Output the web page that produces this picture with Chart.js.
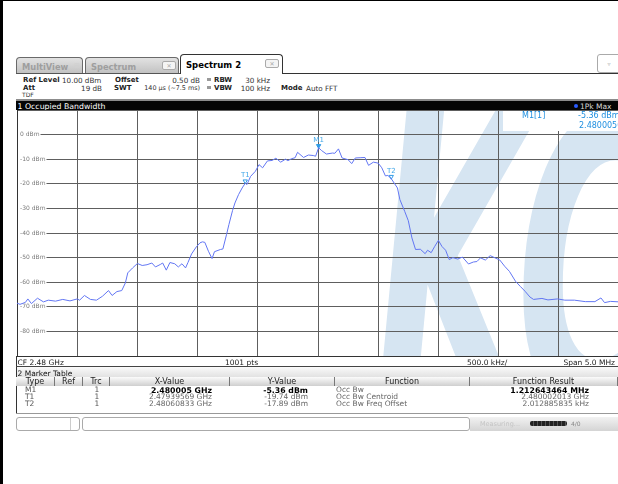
<!DOCTYPE html>
<html>
<head>
<meta charset="utf-8">
<script src="https://cdn.jsdelivr.net/npm/chart.js@4.4.0/dist/chart.umd.min.js"></script>
<style>
body{margin:0;width:618px;height:484px;overflow:hidden;background:#fff;position:relative;font-family:"DejaVu Sans",sans-serif;color:#333}
.a{position:absolute;white-space:nowrap;line-height:1}
.tab{position:absolute;box-sizing:border-box;border:1px solid #6a6a6a;border-bottom:none;border-radius:4px 4px 0 0;background:linear-gradient(#e2e2e2,#c2c2c2);font:bold 8.3px "DejaVu Sans";color:#9e9e9e}
.tab span{position:absolute;top:4px;left:5px}
.ico{position:absolute;box-sizing:border-box;width:14px;height:9px;border:1px solid #aaa;border-radius:2px;background:#f4f4f4;font:6px "DejaVu Sans";color:#aaa;text-align:center;line-height:7px}
.hr{font:7.2px "DejaVu Sans";color:#333}
.hb{font:bold 7px "DejaVu Sans";color:#222}
.sq{position:absolute;width:4px;height:3px;background:#9a9a9a}
.th{position:absolute;top:377px;height:9px;box-sizing:border-box;background:linear-gradient(#fbfbfb,#cfcfcf);border-right:1px solid #777;font:8px "DejaVu Sans";color:#222;text-align:center;line-height:9px}
.td{position:absolute;font:7.5px "DejaVu Sans";color:#666;white-space:nowrap;line-height:1}
.td.b{font:bold 7.8px "DejaVu Sans";color:#000}
#plot{position:absolute;left:16px;top:109px}
</style>
</head>
<body>
<div class="a" style="left:0;top:0;width:3px;height:484px;background:#000"></div>
<div class="a" style="left:0;top:0;width:618px;height:1px;background:#000"></div>

<!-- tabs -->
<div class="tab" style="left:16px;top:57px;width:67px;height:16px"><span>MultiView</span><div class="a" style="left:57px;top:4px;font:7px 'DejaVu Sans';color:#d0d0d0">⊞</div></div>
<div class="tab" style="left:85px;top:57px;width:94px;height:16px"><span>Spectrum</span><div class="ico" style="left:76px;top:3px">✕</div></div>
<div class="tab" style="left:180px;top:54px;width:103px;height:20px;background:#fff;border-color:#333;color:#000;font-size:8.5px"><span style="top:5px">Spectrum 2</span><div class="ico" style="left:84px;top:4px">✕</div></div>
<div class="a" style="left:16px;top:73px;width:164px;height:1px;background:#555"></div>
<div class="a" style="left:282px;top:73px;width:336px;height:1px;background:#333"></div>
<div class="a" style="left:597px;top:54px;width:24px;height:19px;box-sizing:border-box;border:1px solid #aaa;border-radius:3px;background:#fff;font:6px 'DejaVu Sans';color:#aaa;text-align:center;line-height:17px">▿</div>

<!-- header info -->
<div class="a hb" style="left:23px;top:75.5px">Ref Level</div>
<div class="a hr" style="left:62px;top:75.5px">10.00 dBm</div>
<div class="a hb" style="left:115px;top:75.5px">Offset</div>
<div class="a hr" style="right:418px;top:75.5px">0.50 dB</div>
<div class="sq" style="left:207px;top:78px"></div>
<div class="a hb" style="left:214px;top:75.5px">RBW</div>
<div class="a hr" style="right:348px;top:75.5px">30 kHz</div>

<div class="a hb" style="left:23px;top:83.5px">Att</div>
<div class="a hr" style="right:516px;top:83.5px">19 dB</div>
<div class="a hb" style="left:114px;top:83.5px">SWT</div>
<div class="a hr" style="right:418px;top:84px;font-size:6.4px">140 µs (~7.5 ms)</div>
<div class="sq" style="left:207px;top:86px"></div>
<div class="a hb" style="left:214px;top:83.5px">VBW</div>
<div class="a hr" style="right:348px;top:83.5px">100 kHz</div>
<div class="a hb" style="left:281px;top:83.5px">Mode</div>
<div class="a hr" style="left:306px;top:83.5px">Auto FFT</div>
<div class="a hr" style="left:22px;top:91px;font-size:6px">TDF</div>

<!-- title bar -->
<div class="a" style="left:16px;top:99px;width:602px;height:2px;background:#8c8c8c"></div>
<div class="a" style="left:16px;top:101px;width:602px;height:9px;background:#050505"></div>
<div class="a" style="left:17.5px;top:101.5px;font:7.8px 'DejaVu Sans';color:#fff">1 Occupied Bandwidth</div>
<div class="a" style="left:574px;top:103.5px;width:4px;height:4px;border-radius:2px;background:#2a5cff"></div>
<div class="a" style="left:580px;top:101.5px;font:7.5px 'DejaVu Sans';color:#d8d8d8">1Pk Max</div>

<canvas id="plot" width="606" height="249"></canvas>

<!-- bottom of diagram -->
<div class="a" style="left:16px;top:356px;width:1px;height:58px;background:#333"></div>
<div class="a" style="left:17.5px;top:357.5px;font:7.5px 'DejaVu Sans';color:#222">CF 2.48 GHz</div>
<div class="a" style="left:225px;top:357.5px;font:7.5px 'DejaVu Sans';color:#222">1001 pts</div>
<div class="a" style="left:467px;top:357.5px;font:7.5px 'DejaVu Sans';color:#222">500.0 kHz/</div>
<div class="a" style="right:3px;top:357.5px;font:7.5px 'DejaVu Sans';color:#222">Span 5.0 MHz</div>
<div class="a" style="left:16px;top:365.5px;width:602px;height:1.5px;background:#444"></div>
<div class="a" style="left:17px;top:367px;width:601px;height:10px;background:linear-gradient(#fafafa,#e2e2e2)"></div>
<div class="a" style="left:17.5px;top:368.5px;font:7.5px 'DejaVu Sans';color:#111">2 Marker Table</div>
<div id="table"></div>
<div class="a" style="left:16px;top:413px;width:602px;height:1px;background:#999"></div>

<!-- status bar -->
<div class="a" style="left:16px;top:417px;width:64px;height:14px;box-sizing:border-box;border:1px solid #aaa;border-radius:3px;background:#fff"></div>
<div class="a" style="left:70px;top:418px;width:1px;height:12px;background:#ccc"></div>
<div class="a" style="left:82px;top:417px;width:388px;height:14px;box-sizing:border-box;border:1px solid #aaa;border-radius:3px;background:#fff"></div>
<div class="a" style="left:470px;top:417px;width:148px;height:14px;background:linear-gradient(#f2f2f2,#d4d4d4)"></div>
<div class="a" style="left:480px;top:420px;font:6.5px 'DejaVu Sans';color:#c4c4c4">Measuring...</div>
<div class="a" style="left:530px;top:421px;width:37px;height:5px;border-radius:2px;background:repeating-linear-gradient(90deg,#222 0 3px,#555 3px 4px)"></div>
<div class="a" style="left:571px;top:420px;font:6px 'DejaVu Sans';color:#888">4/0</div>

<script>
// trace: frequency offset from CF 2.48 GHz (MHz) and level (dBm)
const freqMHz = [
  -2.50, -2.475, -2.43, -2.41, -2.38, -2.33, -2.28, -2.24, -2.18, -2.12,
  -2.06, -2.00, -1.98, -1.94, -1.89, -1.84, -1.79, -1.74, -1.71, -1.67,
  -1.63, -1.60, -1.58, -1.54, -1.50, -1.46, -1.42, -1.38, -1.35, -1.31,
  -1.29, -1.26, -1.23, -1.19, -1.16, -1.13, -1.10, -1.08, -1.05, -1.01,
  -0.98, -0.96, -0.94, -0.91, -0.88, -0.86, -0.81, -0.79, -0.76, -0.74,
  -0.71, -0.69, -0.66, -0.63, -0.604, -0.59, -0.56, -0.52, -0.49, -0.46,
  -0.42, -0.38, -0.35, -0.31, -0.27, -0.25, -0.22, -0.19, -0.17, -0.12,
  -0.08, -0.04, -0.02, 0.005, 0.03, 0.07, 0.12, 0.14, 0.17, 0.20,
  0.25, 0.28, 0.31, 0.35, 0.39, 0.42, 0.46, 0.50, 0.53, 0.56,
  0.58, 0.608, 0.66, 0.68, 0.72, 0.75, 0.78, 0.81, 0.85, 0.89,
  0.91, 0.94, 0.97, 1.00, 1.03, 1.06, 1.09, 1.12, 1.16, 1.20,
  1.25, 1.29, 1.32, 1.35, 1.39, 1.43, 1.47, 1.51, 1.55, 1.59,
  1.64, 1.68, 1.72, 1.76, 1.79, 1.86, 1.91, 1.99, 2.05, 2.13,
  2.22, 2.30, 2.35, 2.38, 2.43, 2.50
];
const levelDbm = [
  -68.5, -69.0, -68.2, -66.8, -68.7, -66.5, -68.0, -67.3, -67.7, -67.0,
  -67.6, -66.8, -67.3, -65.4, -67.0, -67.3, -65.7, -63.4, -65.4, -63.8,
  -63.4, -60.3, -56.2, -54.2, -52.4, -53.2, -52.9, -52.2, -53.8, -52.8,
  -52.2, -55.1, -52.0, -52.5, -53.8, -52.5, -54.2, -52.0, -48.5, -45.6,
  -44.0, -43.6, -43.8, -47.4, -50.4, -47.6, -46.7, -46.5, -40.7, -36.6,
  -30.9, -27.8, -24.4, -21.7, -19.74, -20.3, -17.0, -14.9, -12.2, -13.5,
  -10.7, -10.5, -9.6, -11.2, -10.0, -10.6, -9.8, -9.4, -7.2, -9.3,
  -8.3, -8.5, -8.8, -5.36, -6.5, -7.9, -7.5, -7.6, -5.8, -9.5,
  -10.2, -11.8, -9.5, -9.4, -9.3, -12.5, -11.2, -11.6, -13.5, -16.8,
  -16.6, -17.89, -21.7, -26.4, -31.2, -35.0, -42.0, -46.7, -46.6, -48.4,
  -47.0, -48.0, -45.4, -43.0, -45.5, -47.0, -50.8, -50.0, -50.6, -49.8,
  -52.6, -51.8, -51.6, -50.1, -51.0, -49.2, -50.1, -51.0, -53.5, -55.6,
  -59.6, -61.7, -63.7, -66.0, -67.0, -66.6, -67.2, -66.8, -67.3, -67.3,
  -67.9, -67.9, -66.4, -68.3, -67.8, -68.0
];

// marker table
const markerNames = ['M1', 'T1', 'T2'];
const markerFreqMHz = [0.005, -0.60431, 0.60833];
const markerLevel = [-5.36, -19.74, -17.89];
const markerRef = ['', '', ''];
const markerTrc = ['1', '1', '1'];
const markerXText = ['2.480005 GHz', '2.47939569 GHz', '2.48060833 GHz'];
const markerYText = ['-5.36 dBm', '-19.74 dBm', '-17.89 dBm'];
const funcNames = ['Occ Bw', 'Occ Bw Centroid', 'Occ Bw Freq Offset'];
const funcResults = ['1.212643464 MHz', '2.480002013 GHz', '2.012885835 kHz'];

// table columns: header, left, right
const columns = [
    ['Type', 16, 55], ['Ref', 55, 83], ['Trc', 83, 110], ['X-Value', 110, 230],
    ['Y-Value', 230, 335], ['Function', 335, 470], ['Function Result', 470, 618]
];
const rowY = [385.5, 393, 400.3];

const table = document.getElementById('table');
columns.forEach(c => {
    const d = document.createElement('div');
    d.className = 'th';
    d.style.left = c[1] + 'px';
    d.style.width = (c[2] - c[1]) + 'px';
    d.textContent = c[0];
    table.appendChild(d);
});

function cell(text, y, bold, opts) {
    const d = document.createElement('div');
    d.className = bold ? 'td b' : 'td';
    d.style.top = y + 'px';
    Object.assign(d.style, opts);
    d.textContent = text;
    table.appendChild(d);
}

markerNames.forEach((name, i) => {
    const y = rowY[i];
    const bold = i === 0;
    cell(name, y, false, { left: '25px', color: '#555' });
    cell(markerRef[i], y, false, { left: '66px' });
    cell(markerTrc[i], y, false, { left: '94.5px', color: '#555' });
    cell(markerXText[i], y, bold, { right: (618 - 212) + 'px' });
    cell(markerYText[i], y, bold, { right: (618 - 308) + 'px' });
    cell(funcNames[i], y, false, { left: '336px' });
    cell(funcResults[i], y, bold, { right: (618 - 589) + 'px' });
});

const watermark = {
    id: 'watermark',
    beforeDraw(chart) {
        const { ctx, chartArea: a } = chart;
        ctx.save();
        ctx.beginPath();
        ctx.rect(a.left, a.top, a.right - a.left, a.bottom - a.top);
        ctx.clip();
        ctx.fillStyle = '#d6e5f2';
        ctx.font = "italic bold 200px 'DejaVu Sans'";
        ctx.translate(358, 301);
        ctx.scale(1, 2.06);
        ctx.fillText('KC', 0, 0);
        ctx.restore();
    }
};

// y tick labels sit inside the plot, left aligned over a white patch
const dbmLabels = {
    id: 'dbmLabels',
    beforeDatasetsDraw(chart) {
        const { ctx, chartArea: a, scales: { y } } = chart;
        ctx.save();
        ctx.font = "6px 'DejaVu Sans'";
        ctx.textBaseline = 'middle';
        y.ticks.forEach(t => {
            if (t.value === 10 || t.value === -90) return;
            const py = y.getPixelForValue(t.value);
            const label = t.value + ' dBm';
            const w = ctx.measureText(label).width;
            ctx.fillStyle = '#fff';
            ctx.fillRect(a.left + 1, py - 2, w + 3, 4);
            ctx.fillStyle = '#7a7a7a';
            ctx.fillText(label, a.left + 3, py);
        });
        ctx.restore();
    }
};

const overlays = {
    id: 'overlays',
    afterDatasetsDraw(chart) {
        const { ctx, scales: { x, y } } = chart;
        ctx.save();
        ctx.fillStyle = '#45a8e8';
        ctx.font = "7px 'DejaVu Sans'";
        ctx.textAlign = 'center';
        ctx.textBaseline = 'bottom';
        markerNames.forEach((name, i) => {
            ctx.fillText(name, x.getPixelForValue(markerFreqMHz[i]), y.getPixelForValue(markerLevel[i]) - 4);
        });
        ctx.restore();
    },
    afterDraw(chart) {
        const { ctx } = chart;
        ctx.save();
        ctx.fillStyle = '#fff';
        ctx.fillRect(487, 2, 130, 20);
        ctx.fillStyle = '#1e8fe0';
        ctx.font = "8px 'DejaVu Sans'";
        ctx.textBaseline = 'middle';
        ctx.fillText('M1[1]', 506, 6.5);
        ctx.fillText(markerYText[0], 562, 6.5);
        ctx.fillText('2.48000500 GHz', 563, 16.5);
        ctx.restore();
    }
};

const gridColor = '#5e5e5e';

new Chart(document.getElementById('plot'), {
    type: 'line',
    data: {
        datasets: [
            {
                data: freqMHz.map((f, i) => ({ x: f, y: levelDbm[i] })),
                borderColor: '#6276f3',
                borderWidth: 1,
                pointRadius: 0,
                tension: 0
            },
            {
                type: 'scatter',
                data: markerFreqMHz.map((f, i) => ({ x: f, y: markerLevel[i] + 0.8 })),
                pointStyle: 'triangle',
                rotation: 180,
                pointRadius: 2.5,
                borderWidth: 1,
                borderColor: '#2f9be6',
                backgroundColor: ['#2f9be6', 'rgba(255,255,255,0)', 'rgba(255,255,255,0)']
            }
        ]
    },
    options: {
        responsive: false,
        animation: false,
        events: [],
        layout: { autoPadding: false, padding: { left: 1, top: 1, right: 3, bottom: 2 } },
        plugins: { legend: { display: false }, tooltip: { enabled: false } },
        scales: {
            x: {
                type: 'linear',
                min: -2.5,
                max: 2.5,
                ticks: { display: false, stepSize: 0.5 },
                grid: { color: gridColor, drawTicks: false },
                border: { color: '#333' }
            },
            y: {
                min: -90,
                max: 10,
                ticks: { display: false, stepSize: 10 },
                grid: { color: gridColor, drawTicks: false },
                border: { color: '#333' }
            }
        }
    },
    plugins: [watermark, dbmLabels, overlays]
});
</script>
</body>
</html>
